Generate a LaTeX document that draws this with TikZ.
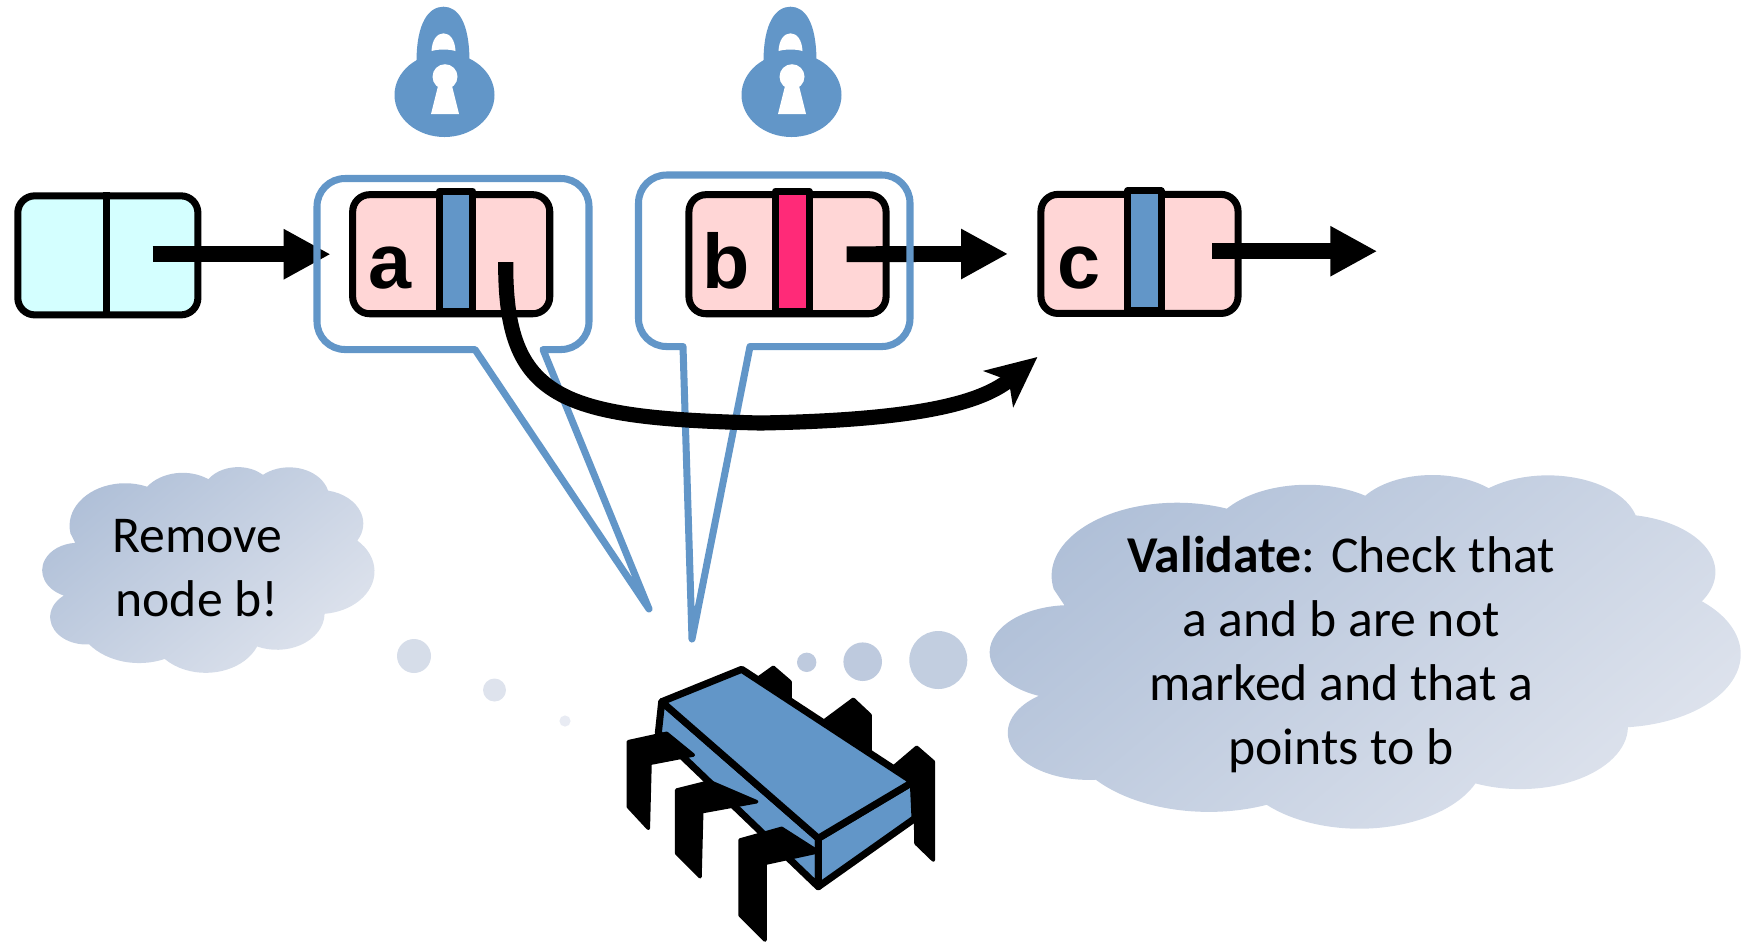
\documentclass[tikz,border=0pt]{standalone}
\usepackage{fontspec}
\setmainfont{Carlito}
\newfontfamily\cellfont{Liberation Sans}
\usetikzlibrary{arrows.meta, calc, positioning}

\definecolor{lockblue}{RGB}{98,150,200}
\definecolor{cellpink}{RGB}{255,214,214}
\definecolor{headcyan}{RGB}{212,255,255}
\definecolor{markred}{RGB}{255,42,120}
\definecolor{cloudtop}{RGB}{176,192,216}
\definecolor{cloudbottom}{RGB}{222,227,237}

\tikzset{
  cell/.style={draw, line width=2pt, fill=cellpink, rounded corners=0.17cm,
    minimum width=1.97cm, minimum height=1.19cm, inner sep=0pt},
  markbar/.style={draw, line width=2pt},
  celltext/.style={font=\cellfont\bfseries\fontsize{22}{26}\selectfont, anchor=base, inner sep=0pt},
  ptr/.style={line width=4.5pt, -{Triangle[length=0.47cm 0 0, width=0.47cm 0 0]}},
  callout/.style={draw=lockblue, line width=2pt},
  leg/.style={fill=black, draw=black, line width=1pt},
  chipface/.style={fill=lockblue, draw=black, line width=2pt},
  cloudshade/.style={top color=cloudtop, bottom color=cloudbottom, shading angle=40},
  thought/.style={font=\fontsize{14.7}{18.2}\selectfont, align=center, inner sep=0pt},
  % cloud outline on a 432 x 432 grid
  ppt cloud/.style={insert path={
    (39,143.7)
    arc[start angle=-190.4875, delta angle=123.7805, x radius=67.53, y radius=91.90]
    arc[start angle=-144.1024, delta angle=89.9452, x radius=53.33, y radius=72.67]
    arc[start angle=-145.8079, delta angle=99.7230, x radius=43.65, y radius=59.45]
    arc[start angle=-130.9861, delta angle=117.2417, x radius=48.57, y radius=65.95]
    arc[start angle=-78.7089, delta angle=109.0269, x radius=53.33, y radius=72.73]
    arc[start angle=-46.2673, delta angle=130.2690, x radius=67.75, y radius=92.20]
    arc[start angle=0.6250, delta angle=114.0333, x radius=57.85, y radius=78.67]
    arc[start angle=22.4516, delta angle=115.1726, x radius=67.52, y radius=92.15]
    arc[start angle=66.2426, delta angle=75.7110, x radius=77.20, y radius=105.43]
    arc[start angle=-274.9421, delta angle=146.7356, x radius=43.60, y radius=59.18]
    arc[start angle=-246.8285, delta angle=152.5189, x radius=43.45, y radius=59.45]
    -- cycle}},
}

\begin{document}
\begin{tikzpicture}[x=0.01cm, y=-0.01cm, line join=round]
\useasboundingbox (0,0) rectangle (1745,941);

% Locks above a and b
\foreach \lx in {0,347}{
  \begin{scope}[shift={(\lx,0)}]
    \fill[lockblue] (416.5,62) .. controls (416.5,22) and (429,6.7) .. (443.5,6.7)
      .. controls (458,6.7) and (469.5,22) .. (469.5,62) -- cycle;
    \fill[lockblue] (444.5,95) ellipse [x radius=50, y radius=42];
    \fill[white] (431.5,51) .. controls (432,40) and (437,33.3) .. (443.5,33.3)
      .. controls (450,33.3) and (455,40) .. (455.5,51)
      .. controls (449,49) and (438,49) .. (431.5,51) -- cycle;
    \fill[white] (445,76.7) circle [radius=12.5];
    \fill[white] (438.5,84) -- (451.5,84) -- (459,114) -- (431,114) -- cycle;
  \end{scope}
}

% Thought clouds
\begin{scope}[shift={(38.4,467)}, x=0.00822cm, y=-0.004622cm]
  \shade[cloudshade, ppt cloud];
\end{scope}
\begin{scope}[shift={(981.2,474.8)}, x=0.01859cm, y=-0.007955cm]
  \shade[cloudshade, ppt cloud];
\end{scope}

% Bubbles
\fill[cloudbottom!83!cloudtop] (414,656) circle [radius=17];
\fill[cloudbottom] (494.5,690) circle [radius=11.5];
\fill[cloudbottom!70!white] (565,721) circle [radius=5.6];
\fill[cloudbottom!30!cloudtop] (806.7,662.3) circle [radius=9.7];
\fill[cloudbottom!30!cloudtop] (862.7,661.7) circle [radius=19.3];
\fill[cloudbottom!39!cloudtop] (938.3,660) circle [radius=29];

\node[thought] (remove) at (197,568) {Remove\\node b!};
\node[thought] (validate) at (1341,655) {\textbf{Validate}: Check that\\a and b are not\\marked and that a\\points to b};

% Chip: back legs, body, front legs
\path[leg] (757,679) -- (773.3,667.3) -- (790,681.7) -- (790,705) -- cycle;
\path[leg] (820,724) -- (853.3,699.3) -- (870,715) -- (870,760) -- cycle;
\path[leg] (890,770) -- (916.7,747.3) -- (933.3,761.7) -- (933.3,860) -- (916,843.3) -- (915,790) -- cycle;
\path[chipface] (661.7,701.7) -- (818.3,838.3) -- (818.3,886.7) -- (658.3,733.3) -- cycle;
\path[chipface] (818.3,838.3) -- (913.3,781.7) -- (915,818.3) -- (818.3,886.7) -- cycle;
\path[chipface] (661.7,701.7) -- (741.7,669.3) -- (913.3,781.7) -- (818.3,838.3) -- cycle;
\path[leg] (628.3,741.7) -- (666.7,733.3) -- (693.3,755) -- (650,763.3) -- (648.3,828.3) -- (628.3,806.7) -- cycle;
\path[leg] (676.7,790) -- (710,781.7) -- (756.7,801.7) -- (701.7,811.7) -- (700,876.7) -- (676.7,853.3) -- cycle;
\path[leg] (740,840) -- (781.7,828.3) -- (818.3,851.7) -- (765,863.3) -- (765,940) -- (740,915) -- cycle;

% List cells
\node[cell, fill=headcyan, minimum width=1.80cm] (head) at (107.85,255.35) {};
\node[cell] (a) at (451.2,254.2) {};
\node[cell] (b) at (787.5,254.2) {};
\node[cell] (c) at (1139.5,253.9) {};
\draw[line width=2pt] ($(head.north west)+(92.3,0)$) -- ($(head.south west)+(92.3,0)$);
\foreach \n/\col in {a/lockblue, b/markred, c/lockblue}
  \draw[markbar, fill=\col] ($(\n.north west)+(90.3,0)$) rectangle ($(\n.south west)+(123.6,-6)$);
\node[celltext] (la) at ($(a.south west)+(41,-28.7)$) {a};
\node[celltext] (lb) at ($(b.south west)+(40.3,-28.7)$) {b};
\node[celltext] (lc) at ($(c.south west)+(42,-28.7)$) {c};

% Next pointers
\coordinate (headptr) at (152.7,254.2);
\coordinate (bptr) at (846.7,254.2);
\coordinate (cptr) at (1212.3,251.2);
\coordinate (cnext) at (1377.3,251.2);
\draw[ptr] (headptr) -- ([xshift=-0.184cm]a.west);
\draw[ptr] (bptr) -- ([xshift=-0.293cm]c.west);
\draw[ptr] (cptr) -- (cnext);

% Callouts from the chip
\coordinate (atip) at (649,609);
\coordinate (btip) at (692,639);
\draw[callout] (475,349.5) [rounded corners=0.28cm] -- (317,349.5) -- (317,178.5) -- (589,178.5)
  -- (589,349.5) [sharp corners] -- (543,349.5) -- (atip) -- cycle;
\draw[callout] (683,346.5) [rounded corners=0.28cm] -- (638.5,346.5) -- (638.5,175) -- (910,175)
  -- (910,346.5) [sharp corners] -- (750,346.5) -- (btip) -- cycle;

% a now points past b to c
\coordinate (aptr) at (505.7,262);
\draw[line width=4.3pt, -{Stealth[length=0.5cm 0 0, width=0.46cm 0 0, inset=0.13cm 0]}]
  (aptr) .. controls (505,400) and (560,418) .. (760,423)
  .. controls (930,420) and (985,400) .. ([yshift=-0.4cm]c.south west);
\end{tikzpicture}
\end{document}
